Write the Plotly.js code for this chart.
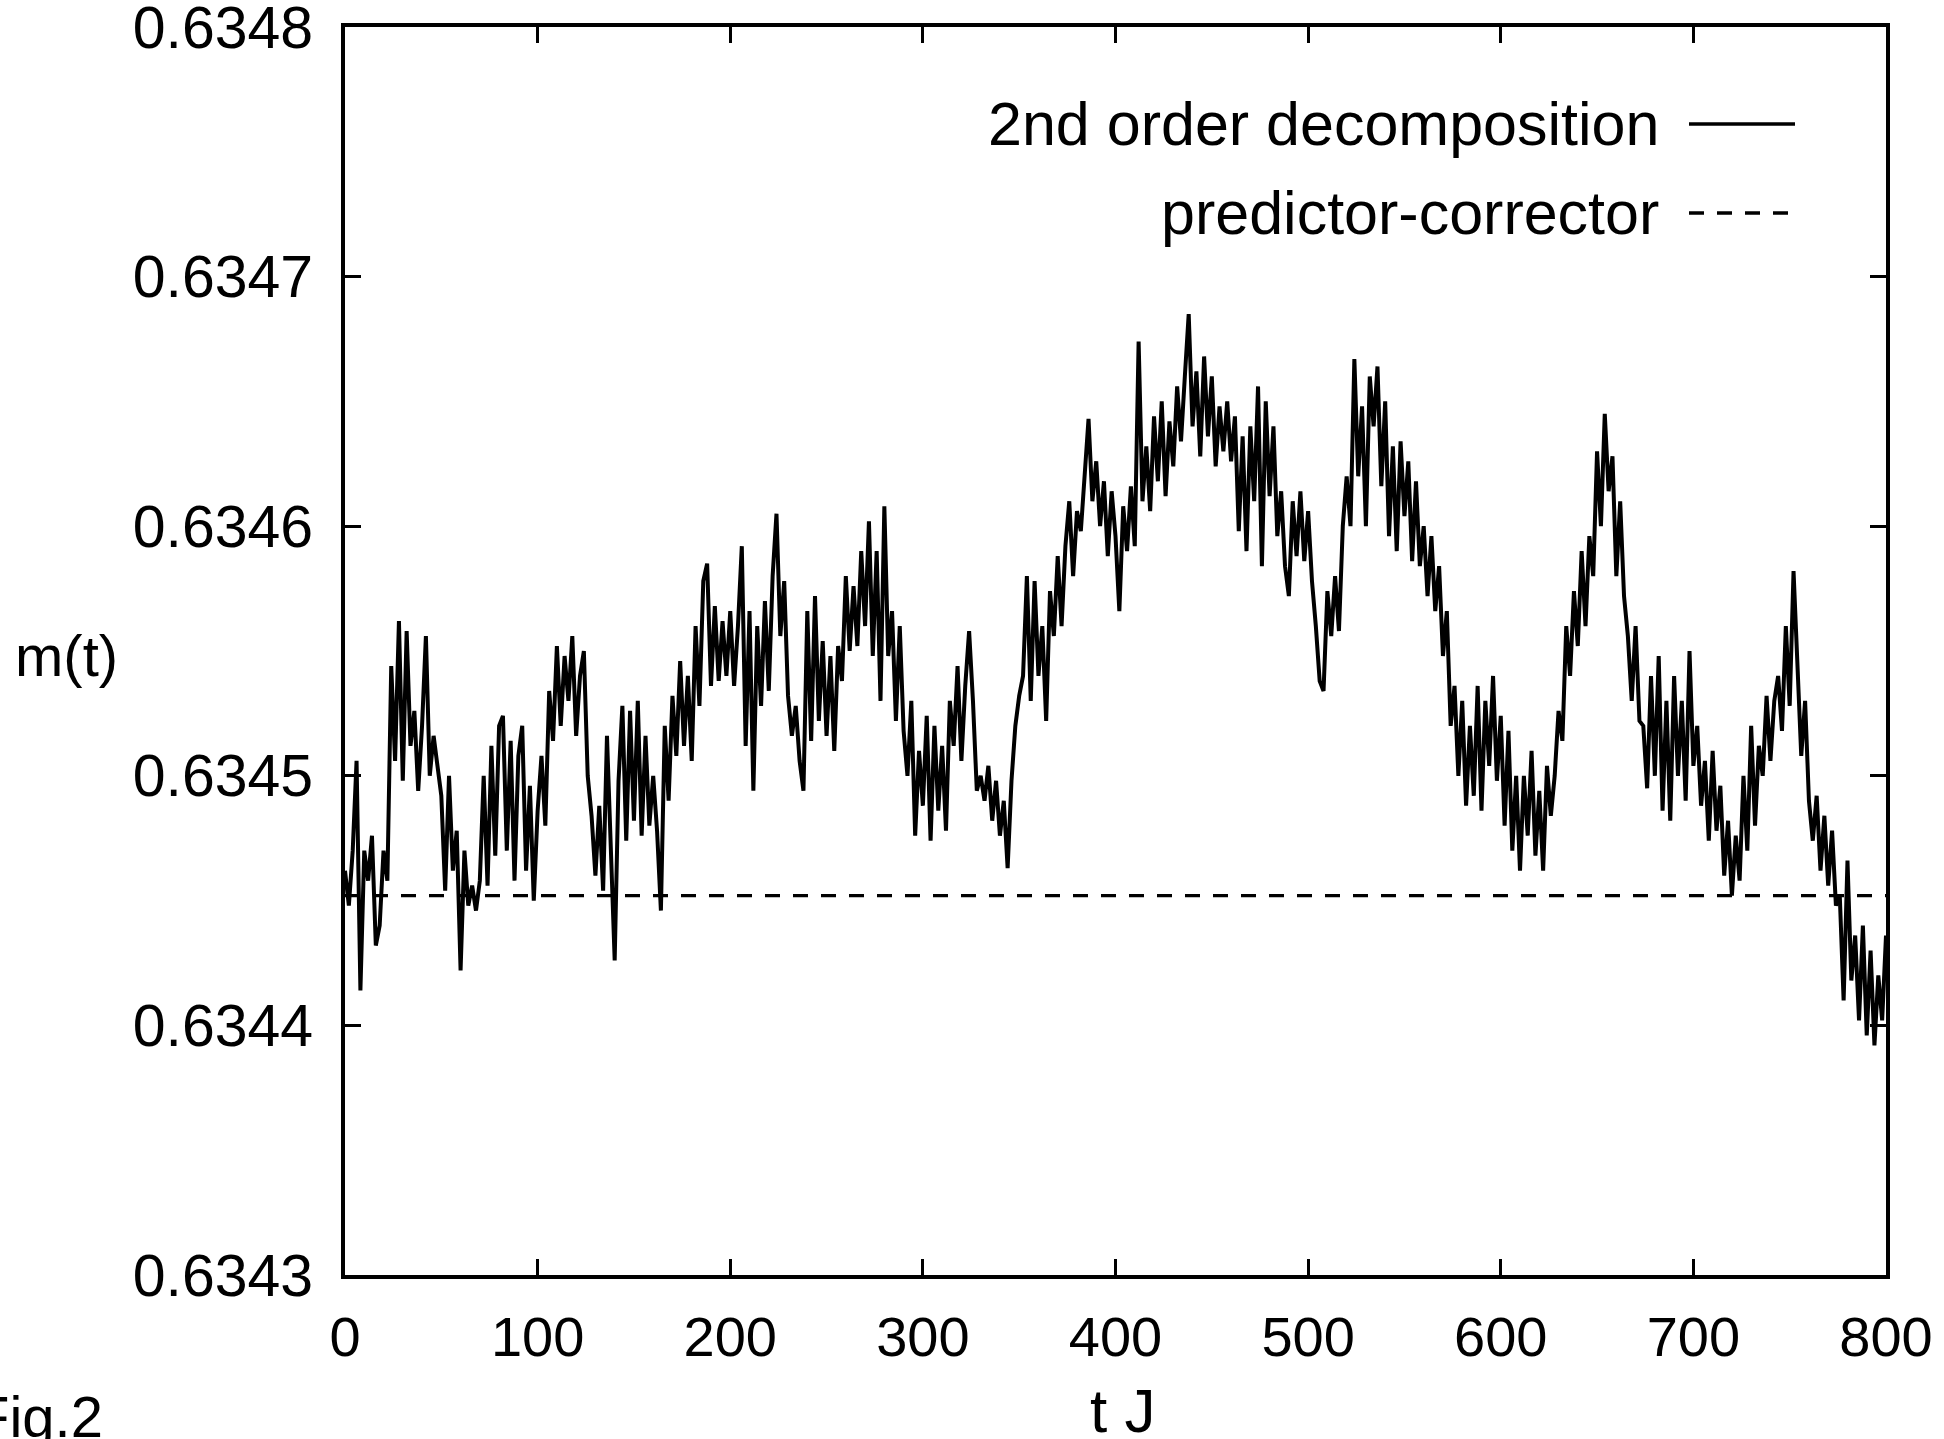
<!DOCTYPE html>
<html><head><meta charset="utf-8">
<script src="https://cdn.plot.ly/plotly-3.0.1.min.js"></script>
<style>html,body{margin:0;padding:0;background:#fff}</style>
</head><body><div id="chart" style="width:1944px;height:1439px"></div>
<script>
// ---- data ----
const tStart = 0, tStep = 2;
const seriesNames = ['2nd order decomposition', 'predictor-corrector'];
const mDecomp = [
0.634462,0.634448,0.634470,0.634506,0.634414,0.634470,0.634458,0.634476,0.634432,0.634440,
0.634470,0.634458,0.634544,0.634506,0.634562,0.634498,0.634558,0.634512,0.634526,0.634494,
0.634520,0.634556,0.634500,0.634516,0.634504,0.634492,0.634454,0.634500,0.634462,0.634478,
0.634422,0.634470,0.634448,0.634456,0.634446,0.634458,0.634500,0.634456,0.634512,0.634468,
0.634520,0.634524,0.634470,0.634514,0.634458,0.634508,0.634520,0.634462,0.634496,0.634450,
0.634486,0.634508,0.634480,0.634534,0.634514,0.634552,0.634520,0.634548,0.634530,0.634556,
0.634516,0.634540,0.634550,0.634500,0.634484,0.634460,0.634488,0.634454,0.634516,0.634470,
0.634426,0.634498,0.634528,0.634474,0.634526,0.634482,0.634530,0.634476,0.634516,0.634480,
0.634500,0.634478,0.634446,0.634520,0.634490,0.634532,0.634508,0.634546,0.634512,0.634540,
0.634506,0.634560,0.634528,0.634578,0.634585,0.634536,0.634568,0.634538,0.634562,0.634540,
0.634566,0.634536,0.634560,0.634592,0.634512,0.634566,0.634494,0.634560,0.634528,0.634570,
0.634534,0.634580,0.634605,0.634556,0.634578,0.634532,0.634516,0.634528,0.634506,0.634494,
0.634566,0.634514,0.634572,0.634522,0.634554,0.634516,0.634548,0.634510,0.634552,0.634538,
0.634580,0.634550,0.634576,0.634552,0.634590,0.634560,0.634602,0.634548,0.634590,0.634530,
0.634608,0.634548,0.634566,0.634522,0.634560,0.634518,0.634500,0.634530,0.634476,0.634510,
0.634488,0.634524,0.634474,0.634520,0.634486,0.634512,0.634478,0.634530,0.634512,0.634544,
0.634506,0.634536,0.634558,0.634530,0.634494,0.634500,0.634490,0.634504,0.634482,0.634498,
0.634476,0.634490,0.634463,0.634498,0.634520,0.634532,0.634540,0.634580,0.634530,0.634578,
0.634540,0.634560,0.634522,0.634574,0.634556,0.634588,0.634560,0.634592,0.634610,0.634580,
0.634606,0.634598,0.634622,0.634643,0.634610,0.634626,0.634600,0.634618,0.634588,0.634614,
0.634596,0.634566,0.634608,0.634590,0.634616,0.634592,0.634674,0.634610,0.634632,0.634606,
0.634644,0.634618,0.634650,0.634612,0.634642,0.634624,0.634656,0.634634,0.634660,0.634685,
0.634640,0.634662,0.634628,0.634668,0.634636,0.634660,0.634624,0.634648,0.634630,0.634650,
0.634626,0.634644,0.634598,0.634636,0.634590,0.634640,0.634610,0.634656,0.634584,0.634650,
0.634612,0.634640,0.634596,0.634614,0.634584,0.634572,0.634610,0.634588,0.634614,0.634586,
0.634606,0.634578,0.634560,0.634538,0.634534,0.634574,0.634556,0.634580,0.634558,0.634600,
0.634620,0.634600,0.634667,0.634620,0.634648,0.634600,0.634660,0.634640,0.634664,0.634616,
0.634650,0.634596,0.634632,0.634590,0.634634,0.634604,0.634626,0.634586,0.634618,0.634584,
0.634600,0.634572,0.634596,0.634566,0.634584,0.634548,0.634566,0.634520,0.634536,0.634500,
0.634530,0.634488,0.634520,0.634492,0.634536,0.634486,0.634530,0.634504,0.634540,0.634498,
0.634524,0.634480,0.634518,0.634470,0.634500,0.634462,0.634500,0.634476,0.634510,0.634468,
0.634494,0.634462,0.634504,0.634484,0.634500,0.634526,0.634514,0.634560,0.634540,0.634574,
0.634552,0.634590,0.634560,0.634596,0.634580,0.634630,0.634600,0.634645,0.634614,0.634628,
0.634580,0.634610,0.634572,0.634556,0.634530,0.634560,0.634522,0.634520,0.634495,0.634540,
0.634500,0.634548,0.634486,0.634530,0.634482,0.634540,0.634500,0.634530,0.634490,0.634550,
0.634504,0.634520,0.634488,0.634506,0.634474,0.634510,0.634478,0.634496,0.634460,0.634482,
0.634452,0.634476,0.634458,0.634500,0.634470,0.634520,0.634480,0.634512,0.634500,0.634532,
0.634506,0.634530,0.634540,0.634518,0.634560,0.634528,0.634582,0.634540,0.634508,0.634530,
0.634490,0.634474,0.634492,0.634462,0.634484,0.634456,0.634478,0.634448,0.634452,0.634410,
0.634466,0.634418,0.634436,0.634402,0.634440,0.634396,0.634430,0.634392,0.634420,0.634402,
0.634436
];
const pcT = [0, 800];
const pcM = [0.634452, 0.634452];
const xTickVals = [0, 100, 200, 300, 400, 500, 600, 700, 800];
const xTickText = ['0', '100', '200', '300', '400', '500', '600', '700', '800'];
const yTickVals = [0.6343, 0.6344, 0.6345, 0.6346, 0.6347, 0.6348];
const yTickText = ['0.6343', '0.6344', '0.6345', '0.6346', '0.6347', '0.6348'];
const xLabel = 't J', yLabel = 'm(t)', figLabel = 'Fig.2';

// ---- build ----
const tDecomp = mDecomp.map((_, i) => tStart + i * tStep);
const FONT = 'Liberation Sans, Arial, Helvetica, sans-serif';
const W = 1944, H = 1439;
const L = 345, R = 58, T = 27, B = 164;
const pw = W - L - R, ph = H - T - B;
const px = x => (x - L) / pw;     // pixel -> paper
const py = y => (H - B - y) / ph;

const traces = [
  {x: tDecomp, y: mDecomp, type: 'scatter', mode: 'lines', name: seriesNames[0],
   line: {color: '#000', width: 4}, showlegend: false, hoverinfo: 'skip'},
  {x: pcT, y: pcM, type: 'scatter', mode: 'lines', name: seriesNames[1],
   line: {color: '#000', width: 3.4, dash: '15px,13px'}, showlegend: false, hoverinfo: 'skip'}
];

const axisCommon = {
  showgrid: false, zeroline: false, showline: true, mirror: 'ticks',
  linecolor: '#000', linewidth: 4, ticks: 'inside', ticklen: 16, tickwidth: 2.8,
  tickcolor: '#000', tickmode: 'array', ticklabeloverflow: 'allow',
  tickfont: {family: FONT, size: 56, color: '#000'}
};

const annFont = {family: FONT, size: 58, color: '#000'};
const legFont = {family: FONT, size: 61, color: '#000'};
const layout = {
  width: W, height: H,
  margin: {l: L, r: R, t: T, b: B, pad: 0},
  paper_bgcolor: '#fff', plot_bgcolor: '#fff',
  xaxis: Object.assign({}, axisCommon, {range: [0, 800], tickvals: xTickVals, ticktext: xTickText,
          ticklabelstandoff: 10}),
  yaxis: Object.assign({}, axisCommon, {range: [0.6343, 0.6348], tickvals: yTickVals, ticktext: yTickText,
          ticklabelstandoff: 16, tickfont: {family: FONT, size: 59, color: '#000'}}),
  annotations: [
    {xref: 'paper', yref: 'paper', x: px(66), y: py(655), text: yLabel, showarrow: false,
     xanchor: 'center', yanchor: 'middle', font: annFont},
    {xref: 'paper', yref: 'paper', x: px(1122), y: py(1410), text: xLabel, showarrow: false,
     xanchor: 'center', yanchor: 'middle', font: {family: FONT, size: 62, color: '#000'}},
    {xref: 'paper', yref: 'paper', x: px(38), y: py(1416), text: figLabel, showarrow: false,
     xanchor: 'center', yanchor: 'middle', font: annFont},
    {xref: 'paper', yref: 'paper', x: px(1661), y: py(124), text: seriesNames[0], showarrow: false,
     xanchor: 'right', yanchor: 'middle', font: legFont},
    {xref: 'paper', yref: 'paper', x: px(1661), y: py(213), text: seriesNames[1], showarrow: false,
     xanchor: 'right', yanchor: 'middle', font: legFont}
  ],
  shapes: [
    {type: 'line', xref: 'paper', yref: 'paper', x0: px(1689), x1: px(1795), y0: py(124), y1: py(124),
     line: {color: '#000', width: 3.4}},
    {type: 'line', xref: 'paper', yref: 'paper', x0: px(1689), x1: px(1795), y0: py(213), y1: py(213),
     line: {color: '#000', width: 3.4, dash: '15px,13px'}}
  ]
};

Plotly.newPlot('chart', traces, layout, {staticPlot: true, displayModeBar: false});
</script>
</body></html>
